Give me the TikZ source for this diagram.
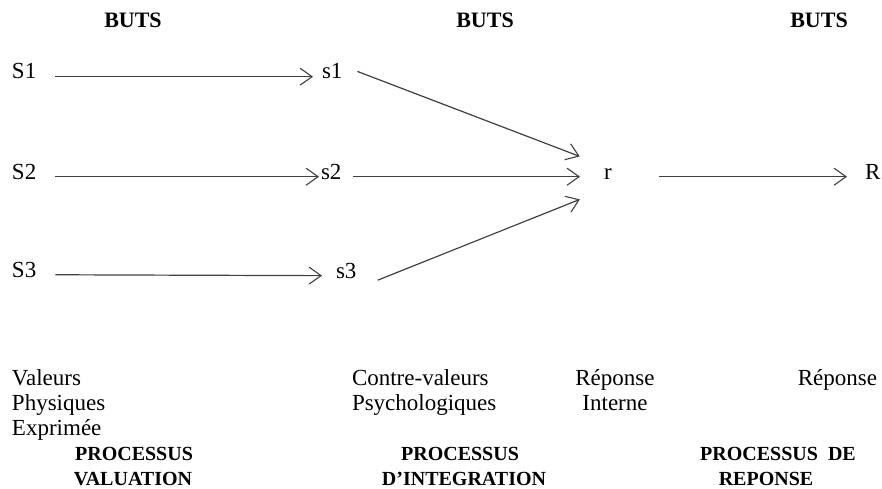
\documentclass[tikz,border=0pt]{standalone}
\usepackage{fontspec}
\setmainfont{Liberation Serif}
\usetikzlibrary{arrows.meta}
\begin{document}
\begin{tikzpicture}[x=1pt,y=-1pt,
  every node/.style={inner sep=0pt,outer sep=0pt},
  lab/.style={font=\fontsize{23}{25}\selectfont,text=black},
  head/.style={font=\fontsize{22}{25}\selectfont\bfseries,text=black},
  proc/.style={font=\fontsize{20}{25}\selectfont\bfseries,text=black},
  arr/.style={draw=black!75,line width=1.2pt,-{Straight Barb[length=12pt,width=17pt,line width=1.1pt]}}]
\useasboundingbox[fill=white] (0,0) rectangle (882,489);
% headings
\node[head,anchor=base] (b1) at (133,28) {BUTS};
\node[head,anchor=base] (b2) at (485,28) {BUTS};
\node[head,anchor=base] (b3) at (819,28) {BUTS};
% nodes
\node[lab,anchor=base west] (S1) at (12,79) {S1};
\node[lab,anchor=base west] (S2) at (12,179) {S2};
\node[lab,anchor=base west] (S3) at (12,277) {S3};
\node[lab,anchor=base west] (s1) at (322,79) {s1};
\node[lab,anchor=base west] (s2) at (321,179) {s2};
\node[lab,anchor=base west] (s3) at (336,278) {s3};
\node[lab,anchor=base west] (r) at (604,179) {r};
\node[lab,anchor=base west] (R) at (865,179) {R};
% arrows
\draw[arr,shorten <=19pt,shorten >=9pt] (S1.mid east) -- (s1.mid west);
\draw[arr,shorten <=19pt,shorten >=2pt] (S2.mid east) -- (s2.mid west);
\draw[arr,shorten <=19pt,shorten >=14pt] (S3.mid east) -- (s3.mid west);
\draw[arr,shorten <=16pt,shorten >=26pt] ([yshift=11pt]s1.mid east) -- ([yshift=11pt]r.mid west);
\draw[arr,shorten <=12pt,shorten >=24pt] (s2.mid east) -- (r.mid west);
\draw[arr,shorten <=23pt,shorten >=26pt] ([yshift=-13pt]s3.mid east) -- ([yshift=-13pt]r.mid west);
\draw[arr,shorten <=47pt,shorten >=18pt] (r.mid east) -- (R.mid west);
% bottom texts
\node[lab,anchor=base west] (v1) at (12,385) {Valeurs};
\node[lab,anchor=base west] (v2) at (12,410) {Physiques};
\node[lab,anchor=base west] (v3) at (12,435) {Exprimée};
\node[proc,anchor=base] (p1a) at (134,460) {PROCESSUS};
\node[proc,anchor=base] (p1b) at (133,485) {VALUATION};
\node[lab,anchor=base west] (c1) at (352,385) {Contre-valeurs};
\node[lab,anchor=base west] (c2) at (352,410) {Psychologiques};
\node[proc,anchor=base] (p2a) at (460,460) {PROCESSUS};
\node[proc,anchor=base] (p2b) at (464,485) {D’INTEGRATION};
\node[lab,anchor=base] (ri1) at (615,385) {Réponse};
\node[lab,anchor=base] (ri2) at (615,410) {Interne};
\node[lab,anchor=base east] (re) at (877,385) {Réponse};
\node[proc,anchor=base] (p3a) at (778,460) {PROCESSUS\ \ DE};
\node[proc,anchor=base] (p3b) at (766,485) {REPONSE};
\end{tikzpicture}
\end{document}
